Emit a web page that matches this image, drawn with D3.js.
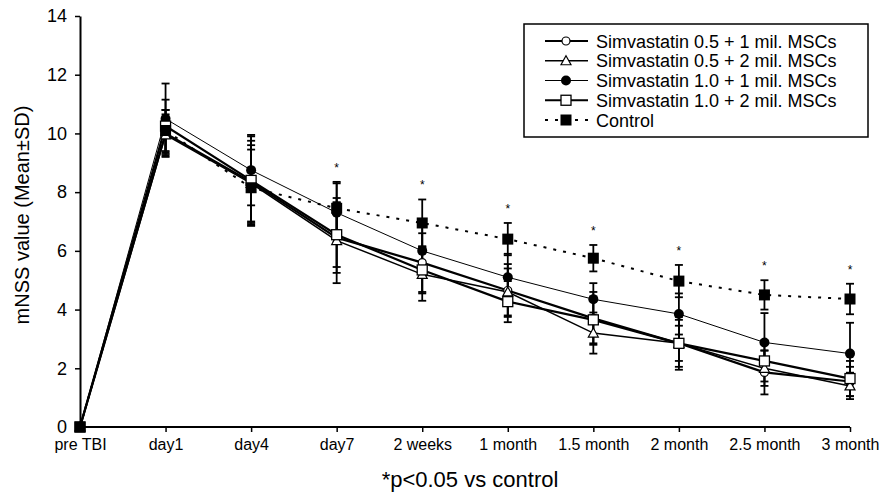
<!DOCTYPE html>
<html>
<head>
<meta charset="utf-8">
<script src="https://cdn.jsdelivr.net/npm/d3@7"></script>
<style>
  body { margin: 0; background: #fff; }
  text { font-family: "Liberation Sans", Arial, sans-serif; fill: #000; }
</style>
</head>
<body>
<svg id="chart" width="880" height="493"></svg>
<script>
// time points and series (mean and SD)
var categories = ["pre TBI", "day1", "day4", "day7", "2 weeks", "1 month", "1.5 month", "2 month", "2.5 month", "3 month"];

var sim05_1m    = [0, 10.0, 8.35, 6.45, 5.6, 4.65, 3.7, 2.85, 1.86, 1.55];
var sim05_1m_sd = [0, 0.8, 1.4, 1.2, 1.0, 0.9, 0.9, 0.9, 0.75, 0.5];
var sim05_2m    = [0, 9.95, 8.3, 6.35, 5.2, 4.6, 3.2, 2.85, 2.0, 1.4];
var sim05_2m_sd = [0, 0.7, 1.3, 1.45, 0.9, 0.8, 0.7, 0.6, 0.6, 0.45];
var sim10_1m    = [0, 10.5, 8.75, 7.3, 6.0, 5.1, 4.35, 3.85, 2.88, 2.5];
var sim10_1m_sd = [0, 1.2, 1.2, 1.0, 0.9, 0.8, 0.55, 0.7, 1.0, 1.05];
var sim10_2m    = [0, 10.25, 8.4, 6.55, 5.35, 4.27, 3.65, 2.85, 2.25, 1.65];
var sim10_2m_sd = [0, 0.9, 1.5, 1.1, 0.8, 0.7, 0.8, 0.8, 0.7, 0.6];
var control     = [0, 10.1, 8.15, 7.45, 6.95, 6.4, 5.75, 4.97, 4.5, 4.36];
var control_sd  = [0, 0.7, 1.3, 0.9, 0.8, 0.55, 0.45, 0.55, 0.5, 0.52];

// p<0.05 vs control
var significant = [false, false, false, true, true, true, true, true, true, true];

var yTicks = [0, 2, 4, 6, 8, 10, 12, 14];

var series = [
  { name: "Simvastatin 0.5 + 1 mil. MSCs", values: sim05_1m, sd: sim05_1m_sd, marker: "circleOpen",   width: 2.2, dash: null },
  { name: "Simvastatin 0.5 + 2 mil. MSCs", values: sim05_2m, sd: sim05_2m_sd, marker: "triangleOpen", width: 1.5, dash: null },
  { name: "Simvastatin 1.0 + 1 mil. MSCs", values: sim10_1m, sd: sim10_1m_sd, marker: "circleFilled", width: 1,   dash: null },
  { name: "Simvastatin 1.0 + 2 mil. MSCs", values: sim10_2m, sd: sim10_2m_sd, marker: "squareOpen",   width: 2.2, dash: null },
  { name: "Control",                       values: control,  sd: control_sd,  marker: "squareFilled", width: 2,   dash: "3,7" }
];

var svg = d3.select("#chart");

var x = d3.scalePoint().domain(categories).range([80, 850]);
var y = d3.scaleLinear().domain([0, 14]).range([427, 16]);

// axes
var xAxis = svg.append("g")
    .attr("transform", "translate(0," + y(0) + ")")
    .call(d3.axisBottom(x).tickSize(5).tickPadding(7).tickSizeOuter(0));
xAxis.select(".domain").attr("stroke-width", 2).attr("d", "M80,0H850");
xAxis.selectAll(".tick line").attr("stroke-width", 1.5);
xAxis.selectAll("text").style("font-size", "16px");

var yAxis = svg.append("g")
    .attr("transform", "translate(80,0)")
    .call(d3.axisLeft(y).tickValues(yTicks).tickSize(5).tickPadding(8).tickSizeOuter(0));
yAxis.select(".domain").attr("stroke-width", 2);
yAxis.selectAll(".tick line").attr("stroke-width", 1.5);
yAxis.selectAll("text").style("font-size", "18px");

// lines
var line = d3.line()
    .x(function(d, i) { return x(categories[i]); })
    .y(function(d) { return y(d); });

series.forEach(function(s) {
  svg.append("path")
      .datum(s.values)
      .attr("fill", "none")
      .attr("stroke", "#000")
      .attr("stroke-width", s.width)
      .attr("stroke-dasharray", s.dash)
      .attr("d", line);
});

// error bars
series.forEach(function(s) {
  var g = svg.append("g").attr("stroke", "#000").attr("stroke-width", 1.8);
  s.values.forEach(function(v, i) {
    if (s.sd[i] === 0) return;
    var cx = x(categories[i]);
    var top = y(v + s.sd[i]), bot = y(v - s.sd[i]);
    g.append("line").attr("x1", cx).attr("x2", cx).attr("y1", top).attr("y2", bot);
    g.append("line").attr("x1", cx - 4).attr("x2", cx + 4).attr("y1", top).attr("y2", top);
    g.append("line").attr("x1", cx - 4).attr("x2", cx + 4).attr("y1", bot).attr("y2", bot);
  });
});

function drawMarker(g, type, cx, cy) {
  if (type === "circleOpen") {
    g.append("circle").attr("cx", cx).attr("cy", cy).attr("r", 4)
      .attr("fill", "#fff").attr("stroke", "#000").attr("stroke-width", 1.2);
  } else if (type === "circleFilled") {
    g.append("circle").attr("cx", cx).attr("cy", cy).attr("r", 5).attr("fill", "#000");
  } else if (type === "triangleOpen") {
    g.append("path").attr("d", "M" + cx + "," + (cy - 5) + "L" + (cx + 5) + "," + (cy + 4) + "L" + (cx - 5) + "," + (cy + 4) + "Z")
      .attr("fill", "#fff").attr("stroke", "#000").attr("stroke-width", 1.2);
  } else if (type === "squareOpen") {
    g.append("rect").attr("x", cx - 5).attr("y", cy - 5).attr("width", 10).attr("height", 10)
      .attr("fill", "#fff").attr("stroke", "#000").attr("stroke-width", 1.3);
  } else if (type === "squareFilled") {
    g.append("rect").attr("x", cx - 5.5).attr("y", cy - 5.5).attr("width", 11).attr("height", 11).attr("fill", "#000");
  }
}

// markers
series.forEach(function(s) {
  var g = svg.append("g");
  s.values.forEach(function(v, i) {
    drawMarker(g, s.marker, x(categories[i]), y(v));
  });
});

// asterisks above the highest error bar
categories.forEach(function(c, i) {
  if (!significant[i]) return;
  var top = d3.max(series, function(s) { return s.values[i] + s.sd[i]; });
  svg.append("text")
      .attr("x", x(c))
      .attr("y", y(top) - 10)
      .attr("text-anchor", "middle")
      .style("font-size", "12px")
      .text("*");
});

// legend
var lg = svg.append("g");
lg.append("rect").attr("x", 524).attr("y", 24).attr("width", 344).attr("height", 113)
    .attr("fill", "#fff").attr("stroke", "#000").attr("stroke-width", 1.5);
series.forEach(function(s, i) {
  var ly = 41 + i * 19.75;
  lg.append("line").attr("x1", 545).attr("x2", 588).attr("y1", ly).attr("y2", ly)
      .attr("stroke", "#000").attr("stroke-width", s.width).attr("stroke-dasharray", s.dash);
  drawMarker(lg, s.marker, 566, ly);
  lg.append("text").attr("x", 596).attr("y", ly + 6.5).style("font-size", "18px").text(s.name);
});

// titles
svg.append("text")
    .attr("transform", "translate(29,215) rotate(-90)")
    .attr("text-anchor", "middle")
    .style("font-size", "20px")
    .text("mNSS value (Mean±SD)");

svg.append("text")
    .attr("x", 470)
    .attr("y", 487)
    .attr("text-anchor", "middle")
    .style("font-size", "22px")
    .text("*p<0.05 vs control");
</script>
</body>
</html>
